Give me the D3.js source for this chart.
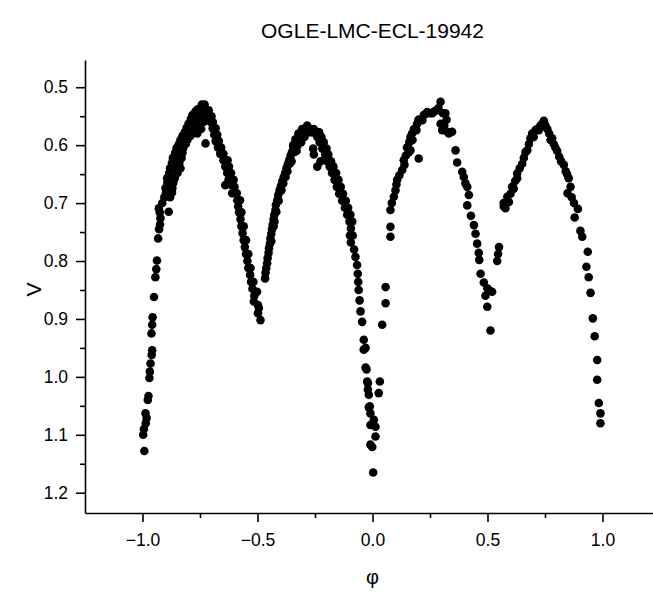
<!DOCTYPE html>
<html>
<head>
<meta charset="utf-8">
<script src="https://cdn.jsdelivr.net/npm/d3@7"></script>
<style>
    body { margin: 0; background: #fff; }
    svg text { font-family: "Liberation Sans", Arial, sans-serif; fill: #000; }
</style>
</head>
<body>
<div id="chart"></div>
<script>
// phase, V magnitude pairs
const minLeft = [
    [-0.992, 1.128], [-0.997, 1.100], [-0.994, 1.090], [-0.986, 1.080], [-0.982, 1.071], [-0.987, 1.063],
    [-0.977, 1.040], [-0.974, 1.033], [-0.970, 1.002], [-0.968, 0.991], [-0.965, 0.977], [-0.960, 0.962],
    [-0.958, 0.954], [-0.961, 0.925], [-0.958, 0.910], [-0.956, 0.897], [-0.950, 0.862], [-0.944, 0.828],
    [-0.940, 0.814], [-0.937, 0.799], [-0.932, 0.761], [-0.928, 0.745], [-0.924, 0.737], [-0.922, 0.726],
    [-0.925, 0.716], [-0.886, 0.715], [-0.929, 0.709], [-0.914, 0.700]
];

const peak1Rise = [
    [-0.905, 0.690], [-0.880, 0.690], [-0.898, 0.682], [-0.872, 0.682], [-0.900, 0.674], [-0.870, 0.674],
    [-0.885, 0.674], [-0.892, 0.665], [-0.866, 0.665], [-0.893, 0.657], [-0.860, 0.657], [-0.876, 0.657],
    [-0.884, 0.648], [-0.848, 0.648], [-0.880, 0.640], [-0.835, 0.640], [-0.858, 0.640], [-0.872, 0.631],
    [-0.840, 0.631], [-0.868, 0.622], [-0.830, 0.622], [-0.848, 0.622], [-0.858, 0.613], [-0.826, 0.613],
    [-0.852, 0.605], [-0.823, 0.605], [-0.838, 0.605], [-0.842, 0.598], [-0.812, 0.598], [-0.835, 0.591],
    [-0.805, 0.591], [-0.820, 0.591], [-0.826, 0.584], [-0.792, 0.584], [-0.816, 0.578], [-0.782, 0.578],
    [-0.800, 0.578], [-0.808, 0.570], [-0.770, 0.570], [-0.800, 0.563], [-0.760, 0.563], [-0.780, 0.563],
    [-0.790, 0.555], [-0.748, 0.555], [-0.770, 0.555], [-0.783, 0.548], [-0.725, 0.548], [-0.760, 0.548],
    [-0.742, 0.548], [-0.770, 0.542], [-0.750, 0.542], [-0.760, 0.538], [-0.735, 0.538], [-0.742, 0.530],
    [-0.730, 0.530], [-0.762, 0.580], [-0.726, 0.597], [-0.745, 0.572], [-0.735, 0.560]
];

const peak1Fall = [
    [-0.722, 0.540], [-0.712, 0.540], [-0.712, 0.550], [-0.700, 0.550], [-0.704, 0.560], [-0.694, 0.560],
    [-0.695, 0.571], [-0.682, 0.571], [-0.688, 0.582], [-0.675, 0.582], [-0.682, 0.593], [-0.668, 0.593],
    [-0.672, 0.604], [-0.658, 0.604], [-0.662, 0.615], [-0.648, 0.615], [-0.648, 0.626], [-0.630, 0.626],
    [-0.640, 0.637], [-0.624, 0.637], [-0.632, 0.648], [-0.615, 0.648], [-0.626, 0.660], [-0.604, 0.660],
    [-0.640, 0.669], [-0.612, 0.669], [-0.600, 0.672], [-0.610, 0.683], [-0.590, 0.683], [-0.588, 0.695],
    [-0.576, 0.695], [-0.584, 0.706], [-0.580, 0.716], [-0.570, 0.716], [-0.574, 0.728], [-0.570, 0.740],
    [-0.560, 0.740], [-0.565, 0.752], [-0.560, 0.764], [-0.550, 0.764], [-0.555, 0.776], [-0.550, 0.788],
    [-0.540, 0.788], [-0.544, 0.800], [-0.540, 0.812], [-0.530, 0.812], [-0.532, 0.824], [-0.528, 0.836],
    [-0.518, 0.836], [-0.522, 0.848], [-0.502, 0.853], [-0.514, 0.860], [-0.516, 0.870], [-0.498, 0.876],
    [-0.494, 0.881], [-0.498, 0.890], [-0.487, 0.902]
];

const peak2Rise = [
    [-0.467, 0.830], [-0.465, 0.820], [-0.462, 0.812], [-0.458, 0.804], [-0.456, 0.795], [-0.452, 0.786],
    [-0.450, 0.778], [-0.446, 0.770], [-0.444, 0.761], [-0.440, 0.753], [-0.437, 0.745], [-0.434, 0.737],
    [-0.430, 0.728], [-0.427, 0.720], [-0.422, 0.712], [-0.420, 0.703], [-0.414, 0.695], [-0.410, 0.686],
    [-0.404, 0.678], [-0.398, 0.670], [-0.392, 0.662], [-0.386, 0.655], [-0.380, 0.648], [-0.374, 0.640],
    [-0.368, 0.633], [-0.362, 0.626], [-0.356, 0.618], [-0.350, 0.612], [-0.344, 0.604], [-0.338, 0.598],
    [-0.430, 0.740], [-0.418, 0.715], [-0.396, 0.678], [-0.378, 0.655], [-0.360, 0.632], [-0.342, 0.612],
    [-0.352, 0.628], [-0.330, 0.610], [-0.440, 0.766], [-0.426, 0.732], [-0.408, 0.696], [-0.388, 0.666],
    [-0.370, 0.645]
];

const peak2Fall = [
    [-0.345, 0.600], [-0.325, 0.600], [-0.335, 0.590], [-0.315, 0.590], [-0.322, 0.580], [-0.300, 0.580],
    [-0.306, 0.572], [-0.290, 0.572], [-0.270, 0.572], [-0.255, 0.572], [-0.284, 0.566], [-0.280, 0.578],
    [-0.262, 0.578], [-0.246, 0.578], [-0.232, 0.578], [-0.296, 0.586], [-0.240, 0.586], [-0.222, 0.586],
    [-0.310, 0.595], [-0.230, 0.595], [-0.212, 0.595], [-0.258, 0.606], [-0.218, 0.606], [-0.200, 0.606],
    [-0.255, 0.616], [-0.206, 0.616], [-0.192, 0.616], [-0.226, 0.628], [-0.196, 0.628], [-0.180, 0.628],
    [-0.240, 0.637], [-0.186, 0.637], [-0.170, 0.637], [-0.176, 0.648], [-0.158, 0.648], [-0.165, 0.660],
    [-0.148, 0.660], [-0.155, 0.672], [-0.138, 0.672], [-0.145, 0.684], [-0.128, 0.684], [-0.132, 0.696],
    [-0.116, 0.696], [-0.120, 0.708], [-0.106, 0.708], [-0.110, 0.720], [-0.096, 0.720], [-0.100, 0.732],
    [-0.088, 0.732], [-0.094, 0.744], [-0.098, 0.756], [-0.086, 0.756], [-0.094, 0.768], [-0.080, 0.780],
    [-0.074, 0.793], [-0.067, 0.807], [-0.064, 0.822], [-0.062, 0.836], [-0.060, 0.850], [-0.056, 0.868],
    [-0.052, 0.887], [-0.045, 0.905]
];

const minCenter = [
    [-0.038, 0.936], [-0.038, 0.953], [-0.030, 0.950], [-0.030, 0.984], [-0.026, 0.987], [-0.023, 1.008],
    [-0.020, 1.011], [-0.020, 1.022], [-0.016, 1.031], [-0.012, 1.051], [-0.016, 1.053], [-0.009, 1.063],
    [-0.009, 1.083], [0.006, 1.074], [0.013, 1.086], [0.013, 1.103], [-0.009, 1.117], [-0.001, 1.121],
    [0.003, 1.165], [0.032, 1.008], [0.027, 1.028], [0.042, 0.910], [0.057, 0.845], [0.057, 0.873]
];

const peak3 = [
    [0.078, 0.758], [0.078, 0.741], [0.078, 0.712], [0.084, 0.700], [0.093, 0.689], [0.100, 0.678],
    [0.104, 0.668], [0.107, 0.660], [0.117, 0.652], [0.129, 0.643], [0.136, 0.626], [0.139, 0.634],
    [0.145, 0.618], [0.158, 0.612], [0.165, 0.609], [0.150, 0.604], [0.160, 0.595], [0.174, 0.591],
    [0.165, 0.586], [0.172, 0.580], [0.180, 0.572], [0.191, 0.574], [0.194, 0.563], [0.201, 0.623],
    [0.200, 0.556], [0.209, 0.557], [0.217, 0.557], [0.223, 0.548], [0.232, 0.546], [0.238, 0.543],
    [0.252, 0.545], [0.260, 0.545], [0.268, 0.542], [0.278, 0.540], [0.287, 0.536], [0.296, 0.525],
    [0.296, 0.563], [0.303, 0.574], [0.306, 0.545], [0.317, 0.545], [0.322, 0.556], [0.325, 0.577],
    [0.332, 0.580], [0.312, 0.566],
    [0.346, 0.577], [0.361, 0.609], [0.368, 0.630], [0.390, 0.646], [0.397, 0.655], [0.404, 0.666],
    [0.412, 0.672], [0.419, 0.686], [0.412, 0.704], [0.428, 0.722], [0.441, 0.738], [0.448, 0.753],
    [0.455, 0.770], [0.462, 0.786], [0.464, 0.798], [0.470, 0.822], [0.484, 0.837], [0.499, 0.847],
    [0.506, 0.850], [0.520, 0.853], [0.491, 0.860], [0.499, 0.879], [0.513, 0.920]
];

const peak4 = [
    [0.550, 0.776], [0.546, 0.788], [0.542, 0.800],
    [0.571, 0.706], [0.578, 0.709], [0.570, 0.700], [0.586, 0.689], [0.593, 0.698], [0.600, 0.684],
    [0.607, 0.672], [0.614, 0.675], [0.620, 0.662], [0.629, 0.649], [0.629, 0.657], [0.640, 0.640],
    [0.651, 0.632], [0.658, 0.622], [0.665, 0.612], [0.673, 0.609], [0.680, 0.598], [0.687, 0.588],
    [0.694, 0.580], [0.701, 0.586], [0.709, 0.574], [0.716, 0.572], [0.723, 0.574], [0.730, 0.566],
    [0.738, 0.563], [0.745, 0.558],
    [0.752, 0.566], [0.760, 0.572], [0.768, 0.580], [0.774, 0.591], [0.781, 0.588], [0.788, 0.598],
    [0.795, 0.604], [0.803, 0.610], [0.812, 0.620], [0.820, 0.628], [0.832, 0.634], [0.840, 0.645],
    [0.846, 0.650], [0.853, 0.657], [0.861, 0.672], [0.848, 0.683], [0.866, 0.690], [0.876, 0.700],
    [0.893, 0.710], [0.879, 0.725], [0.904, 0.748], [0.912, 0.758], [0.936, 0.784], [0.930, 0.810],
    [0.940, 0.828], [0.948, 0.855], [0.958, 0.899], [0.966, 0.930], [0.977, 0.971], [0.977, 1.005],
    [0.984, 1.045], [0.991, 1.063], [0.991, 1.080]
];

const xMajor = [-1.0, -0.5, 0.0, 0.5, 1.0];
const xMinor = [-0.75, -0.25, 0.25, 0.75];
const yMajor = [0.5, 0.6, 0.7, 0.8, 0.9, 1.0, 1.1, 1.2];
const yMinor = [0.55, 0.65, 0.75, 0.85, 0.95, 1.05, 1.15];

const width = 653, height = 596;
const plot = { left: 85, right: 660, top: 60, bottom: 513 };

const svg = d3.select("#chart").append("svg")
    .attr("width", width)
    .attr("height", height);

const x = d3.scaleLinear().domain([-1.25, 1.25]).range([plot.left, plot.right]);
const y = d3.scaleLinear().domain([0.453, 1.235]).range([plot.top, plot.bottom]);
const fmt = d3.format(".1f");

function styleAxis(g) {
    g.selectAll("path, line").attr("stroke", "#000").attr("stroke-width", 1.6);
    g.selectAll("text").attr("font-size", 17.5).attr("font-family", null).attr("fill", "#000");
}

// x axis: major then minor ticks
svg.append("g")
    .attr("transform", `translate(0,${plot.bottom})`)
    .call(d3.axisBottom(x).tickValues(xMajor).tickSize(9).tickSizeOuter(0).tickPadding(12).tickFormat(fmt))
    .call(styleAxis);
svg.append("g")
    .attr("transform", `translate(0,${plot.bottom})`)
    .call(d3.axisBottom(x).tickValues(xMinor).tickSize(5).tickFormat(""))
    .call((g) => g.select(".domain").remove())
    .call(styleAxis);

// y axis
svg.append("g")
    .attr("transform", `translate(${plot.left},0)`)
    .call(d3.axisLeft(y).tickValues(yMajor).tickSize(9).tickSizeOuter(0).tickPadding(8).tickFormat(fmt))
    .call(styleAxis);
svg.append("g")
    .attr("transform", `translate(${plot.left},0)`)
    .call(d3.axisLeft(y).tickValues(yMinor).tickSize(5).tickFormat(""))
    .call((g) => g.select(".domain").remove())
    .call(styleAxis);

const points = [].concat(minLeft, peak1Rise, peak1Fall, peak2Rise, peak2Fall, minCenter, peak3, peak4);

svg.append("g")
    .selectAll("circle")
    .data(points)
    .join("circle")
    .attr("cx", (d) => x(d[0]))
    .attr("cy", (d) => y(d[1]))
    .attr("r", 4.3)
    .attr("fill", "#000");

svg.append("text")
    .attr("x", (plot.left + plot.right) / 2)
    .attr("y", 38)
    .attr("text-anchor", "middle")
    .attr("font-size", 21)
    .text("OGLE-LMC-ECL-19942");

svg.append("text")
    .attr("transform", `translate(41,${(plot.top + plot.bottom) / 2 + 3}) rotate(-90)`)
    .attr("text-anchor", "middle")
    .attr("font-size", 21)
    .text("V");

svg.append("text")
    .attr("x", (plot.left + plot.right) / 2)
    .attr("y", 584)
    .attr("text-anchor", "middle")
    .attr("font-size", 20)
    .text("φ");
</script>
</body>
</html>
